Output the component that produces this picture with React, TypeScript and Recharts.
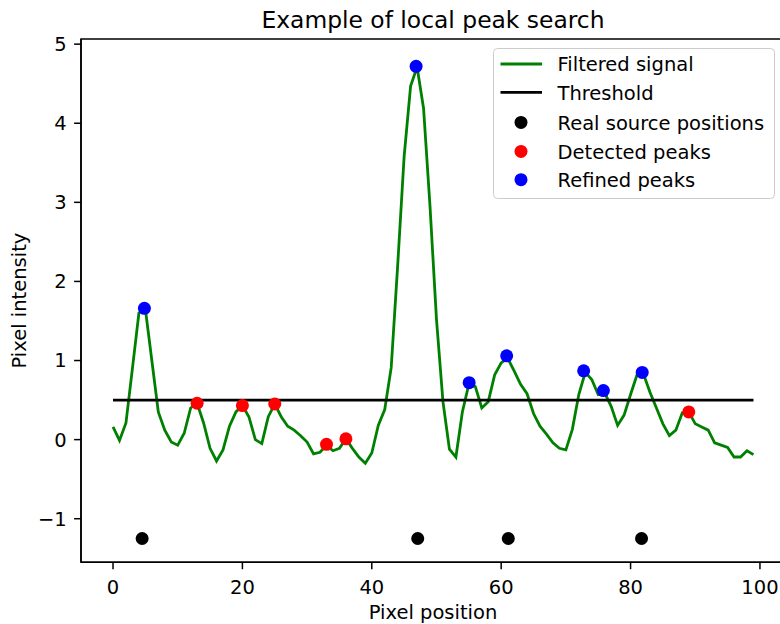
import { ComposedChart, Line, Scatter, XAxis, YAxis, Legend, ReferenceArea } from 'recharts';

// filtered signal, one value per pixel (0..99)
const signal = [
  0.16, -0.01, 0.21, 0.9, 1.6, 1.65, 1.0, 0.35, 0.12, -0.03,
  -0.07, 0.08, 0.4, 0.46, 0.21, -0.11, -0.27, -0.13, 0.17, 0.35,
  0.43, 0.29, 0.0, -0.05, 0.29, 0.45, 0.29, 0.17, 0.12, 0.05,
  -0.03, -0.18, -0.16, -0.07, -0.14, -0.11, 0.01, -0.11, -0.22, -0.3,
  -0.17, 0.18, 0.38, 0.91, 2.2, 3.58, 4.47, 4.71, 4.19, 2.95,
  1.52, 0.48, -0.12, -0.22, 0.35, 0.7, 0.67, 0.4, 0.48, 0.82,
  0.97, 1.03, 0.87, 0.7, 0.58, 0.33, 0.17, 0.07, -0.04, -0.11,
  -0.13, 0.13, 0.57, 0.85, 0.76, 0.57, 0.59, 0.42, 0.18, 0.31,
  0.57, 0.82, 0.83, 0.6, 0.4, 0.2, 0.05, 0.12, 0.34, 0.35,
  0.2, 0.16, 0.12, -0.04, -0.07, -0.1, -0.22, -0.22, -0.14, -0.19,
];

const thresholdX = [0, 99];
const thresholdValue = 0.5;

const realSourceX = [4.5, 47.1, 61.1, 81.7];
const realSourceY = -1.25;

const detectedX = [13, 20, 25, 33, 36, 89];
const detectedY = [0.46, 0.43, 0.45, -0.06, 0.01, 0.35];

const refinedX = [4.85, 46.85, 55.05, 60.85, 72.75, 75.8, 81.8];
const refinedY = [1.66, 4.72, 0.72, 1.06, 0.87, 0.62, 0.85];

const xTicks = [0, 20, 40, 60, 80, 100];
const yTicks = [-1, 0, 1, 2, 3, 4, 5];

const signalData = signal.map((y, i) => ({ x: i, y }));
const thresholdData = thresholdX.map((x) => ({ x, y: thresholdValue }));
const realData = realSourceX.map((x) => ({ x, y: realSourceY }));
const detectedData = detectedX.map((x, i) => ({ x, y: detectedY[i] }));
const refinedData = refinedX.map((x, i) => ({ x, y: refinedY[i] }));

const FONT = '"DejaVu Sans", sans-serif';

const dot = (color: string) => (props: any) => (
  <circle cx={props.cx} cy={props.cy} r={6.5} fill={color} />
);

const fmt = (v: number) => String(v).replace('-', '\u2212');

function LegendBox() {
  const rows = [
    { label: 'Filtered signal', kind: 'line', color: 'green' },
    { label: 'Threshold', kind: 'line', color: 'black' },
    { label: 'Real source positions', kind: 'dot', color: 'black' },
    { label: 'Detected peaks', kind: 'dot', color: 'red' },
    { label: 'Refined peaks', kind: 'dot', color: 'blue' },
  ];
  const ys = [16, 44.4, 74.4, 103.4, 131.7];
  return (
    <svg width={282} height={151} style={{ display: 'block', fontFamily: FONT }}>
      <rect x={0.5} y={0.5} width={281} height={150} rx={4} fill="white" fillOpacity={0.8} stroke="#cccccc" strokeWidth={1} />
      {rows.map((r, i) => (
        <g key={r.label}>
          {r.kind === 'line' ? (
            <line x1={7.5} x2={49} y1={ys[i]} y2={ys[i]} stroke={r.color} strokeWidth={2.8} />
          ) : (
            <circle cx={28} cy={ys[i]} r={6.5} fill={r.color} />
          )}
          <text x={64.5} y={ys[i] + 7.1} fontSize={19.5} fill="black">{r.label}</text>
        </g>
      ))}
    </svg>
  );
}

export default function App() {
  return (
    <div style={{ position: 'absolute', left: 0, top: 0, width: 780, height: 624, overflow: 'hidden', background: 'white' }}>
      <ComposedChart
        width={800}
        height={624}
        margin={{ top: 39, right: 14.5, bottom: 31.7, left: 0 }}
        style={{ fontFamily: FONT }}
      >
        <XAxis
          type="number"
          dataKey="x"
          domain={[-4.95, 103.95]}
          allowDataOverflow
          ticks={xTicks}
          height={30}
          tickSize={6.9}
          tickMargin={10.5}
          tickFormatter={fmt}
          axisLine={{ stroke: 'black', strokeWidth: 1.5 }}
          tickLine={{ stroke: 'black', strokeWidth: 1.5 }}
          tick={{ fill: 'black', fontSize: 19.5, fontFamily: FONT }}
        />
        <YAxis
          type="number"
          dataKey="y"
          domain={[-1.551, 5.065]}
          allowDataOverflow
          ticks={yTicks}
          width={81}
          tickSize={6.9}
          tickMargin={7.4}
          tickFormatter={fmt}
          axisLine={{ stroke: 'black', strokeWidth: 1.5 }}
          tickLine={{ stroke: 'black', strokeWidth: 1.5 }}
          tick={{ fill: 'black', fontSize: 19.5, fontFamily: FONT }}
        />
        <ReferenceArea
          x1={-4.95}
          x2={103.95}
          y1={-1.551}
          y2={5.065}
          fill="none"
          stroke="black"
          strokeWidth={1.5}
        />
        <Line data={signalData} dataKey="y" type="linear" stroke="green" strokeWidth={2.8} dot={false} isAnimationActive={false} />
        <Line data={thresholdData} dataKey="y" type="linear" stroke="black" strokeWidth={2.8} dot={false} isAnimationActive={false} />
        <Scatter data={realData} fill="black" shape={dot('black')} isAnimationActive={false} />
        <Scatter data={detectedData} fill="red" shape={dot('red')} isAnimationActive={false} />
        <Scatter data={refinedData} fill="blue" shape={dot('blue')} isAnimationActive={false} />
        <Legend
          layout="horizontal"
          verticalAlign="middle"
          align="center"
          content={() => <LegendBox />}
          wrapperStyle={{ left: 492.5, top: 48, width: 282, height: 151 }}
        />
        <text x={433} y={27.5} textAnchor="middle" fontSize={23.4} fontFamily={FONT} fill="black">
          Example of local peak search
        </text>
        <text x={433} y={618.5} textAnchor="middle" fontSize={19.5} fontFamily={FONT} fill="black">
          Pixel position
        </text>
        <text
          x={26.5}
          y={300.6}
          textAnchor="middle"
          fontSize={19.5}
          fontFamily={FONT}
          fill="black"
          transform="rotate(-90 26.5 300.6)"
        >
          Pixel intensity
        </text>
      </ComposedChart>
    </div>
  );
}
